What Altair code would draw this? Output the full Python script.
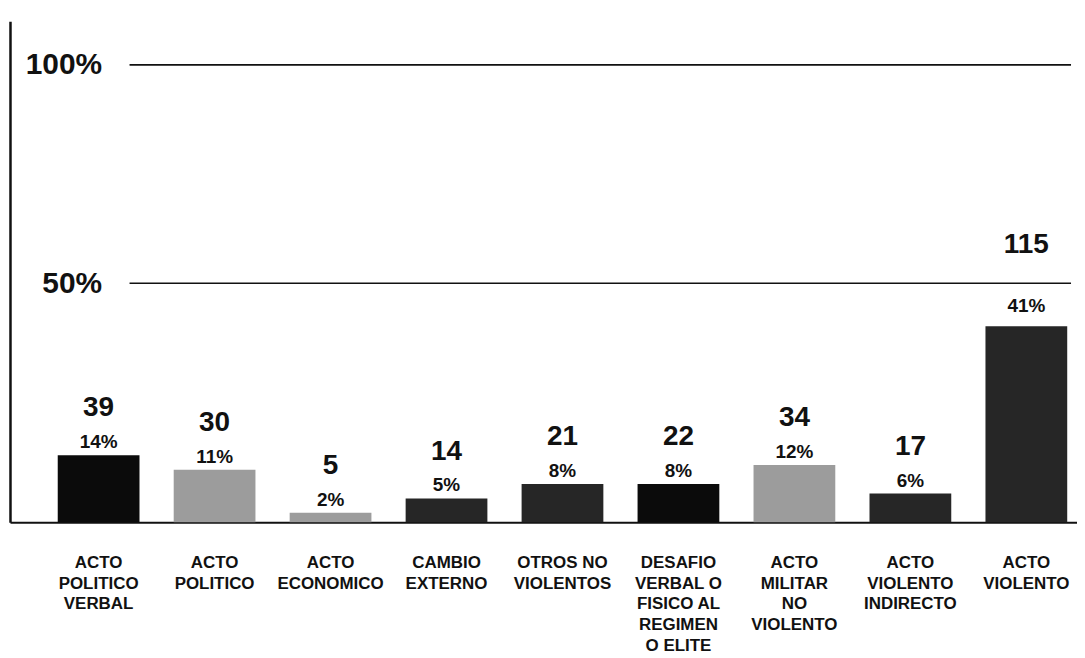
import altair as alt
import pandas as pd

# ---- data ----
categories = [
    "ACTO\nPOLITICO\nVERBAL",
    "ACTO\nPOLITICO",
    "ACTO\nECONOMICO",
    "CAMBIO\nEXTERNO",
    "OTROS NO\nVIOLENTOS",
    "DESAFIO\nVERBAL O\nFISICO AL\nREGIMEN\nO ELITE",
    "ACTO\nMILITAR\nNO\nVIOLENTO",
    "ACTO\nVIOLENTO\nINDIRECTO",
    "ACTO\nVIOLENTO",
]
counts = [39, 30, 5, 14, 21, 22, 34, 17, 115]
percents = [14, 11, 2, 5, 8, 8, 12, 6, 41]
tones = ["negro", "gris", "gris", "oscuro", "oscuro", "negro", "gris", "oscuro", "oscuro"]
grid_values = [50, 100]

df = pd.DataFrame({
    "categoria": categories,
    "casos": counts,
    "porcentaje": percents,
    "tono": tones,
    "pct_label": [f"{p}%" for p in percents],
})
grid_df = pd.DataFrame({"nivel": grid_values})

FONT = "Liberation Sans"

# piecewise scale as drawn in the original (50% and 100% lines unevenly spaced)
y_scale = alt.Scale(domain=[0, 50, 110], range=[503, 263, 0], nice=False, zero=True)

x_enc = alt.X(
    "categoria:N",
    sort=categories,
    scale=alt.Scale(paddingInner=0.295, paddingOuter=0.248, align=0.83),
    axis=alt.Axis(
        title=None,
        labelExpr="split(datum.label, '\\n')",
        labelAngle=0,
        labelFont=FONT,
        labelFontSize=17,
        labelFontWeight="bold",
        labelColor="#111111",
        labelLineHeight=21,
        labelBaseline="top",
        labelPadding=32,
        labelLimit=0,
        ticks=False,
        domain=True,
        domainColor="#111111",
        domainWidth=2,
        grid=False,
    ),
)

bars = alt.Chart(df).mark_bar().encode(
    x=x_enc,
    y=alt.Y(
        "porcentaje:Q",
        scale=y_scale,
        axis=alt.Axis(
            title=None,
            values=grid_values,
            labelExpr="datum.value + '%'",
            labelFont=FONT,
            labelFontSize=30,
            labelFontWeight="bold",
            labelColor="#111111",
            labelAlign="right",
            labelPadding=-92,
            ticks=False,
            tickSize=0,
            grid=False,
            domain=True,
            domainColor="#111111",
            domainWidth=2.5,
        ),
    ),
    color=alt.Color(
        "tono:N",
        scale=alt.Scale(domain=["negro", "gris", "oscuro"],
                        range=["#0b0b0b", "#9c9c9c", "#262626"]),
        legend=None,
    ),
)

grid = alt.Chart(grid_df).mark_rule(color="#111111", strokeWidth=1.6).encode(
    y=alt.Y("nivel:Q", scale=y_scale),
    x=alt.value(120),
    x2=alt.value(1065),
)

base = alt.Chart(df).encode(
    x=alt.X("categoria:N", sort=categories),
    y=alt.Y("porcentaje:Q", scale=y_scale),
)

pct_small = base.transform_filter("datum.casos < 100").mark_text(
    font=FONT, fontSize=19, fontWeight="bold", color="#111111",
    baseline="alphabetic", dy=-7,
).encode(text="pct_label:N")

pct_big = base.transform_filter("datum.casos >= 100").mark_text(
    font=FONT, fontSize=19, fontWeight="bold", color="#111111",
    baseline="alphabetic", dy=-14,
).encode(text="pct_label:N")

count_small = base.transform_filter("datum.casos < 100").mark_text(
    font=FONT, fontSize=28, fontWeight="bold", color="#111111",
    baseline="alphabetic", dy=-39,
).encode(text="casos:Q")

count_big = base.transform_filter("datum.casos >= 100").mark_text(
    font=FONT, fontSize=28, fontWeight="bold", color="#111111",
    baseline="alphabetic", dy=-74,
).encode(text="casos:Q")

chart = alt.layer(grid, bars, pct_small, pct_big, count_small, count_big).properties(
    width=1071,
    height=503,
    autosize=alt.AutoSizeParams(type="none"),
    padding={"left": 2, "top": 12, "right": 0, "bottom": 135},
    background="white",
).configure_view(stroke=None)

chart.save("out.html", embed_options={"renderer": "svg", "actions": False})
